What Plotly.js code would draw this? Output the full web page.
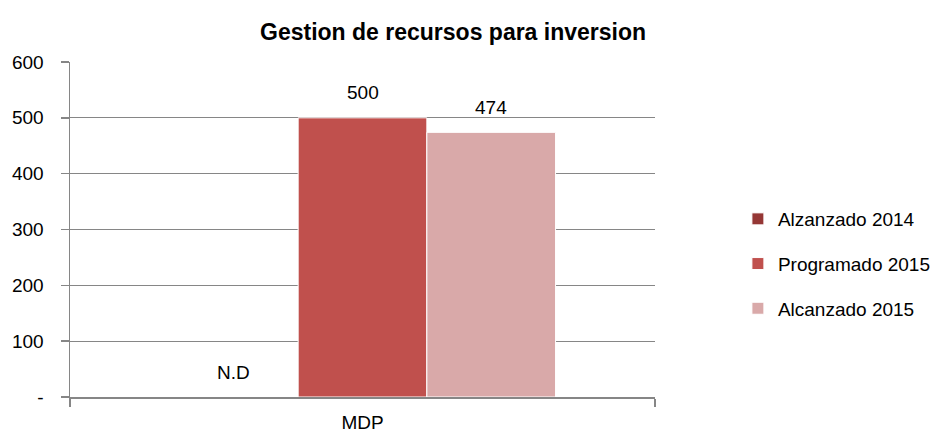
<!DOCTYPE html>
<html>
<head>
<meta charset="utf-8">
<script src="https://cdn.plot.ly/plotly-3.0.1.min.js"></script>
<style>html,body{margin:0;padding:0;background:#fff;}#chart{width:938px;height:432px;}</style>
</head>
<body>
<div id="chart"></div>
<script>
const categories = ["MDP"];
const seriesNames = ["Alzanzado 2014", "Programado 2015", "Alcanzado 2015"];
const alzanzado2014 = [0];
const programado2015 = [500];
const alcanzado2015 = [474];
const labels2014 = ["N.D"];
const labelsProg = ["500"];
const labelsAlc = ["474"];
const yTickVals = [0, 100, 200, 300, 400, 500, 600];
const yTickText = ["-", "100", "200", "300", "400", "500", "600"];
const colors = ["#953735", "#C0504D", "#D9A9A9"];

const FAM = "Liberation Sans, Arial, sans-serif";
const font = {family: FAM, size: 19, color: "#000"};
const values = [alzanzado2014, programado2015, alcanzado2015];
const texts = [labels2014, labelsProg, labelsAlc];
const bargap = 0.34;
const nSeries = values.length;
const barW = (1 - bargap) / nSeries;

const traces = values.map((v, i) => ({
  type: "bar",
  name: seriesNames[i],
  x: categories,
  y: v,
  marker: {color: colors[i], line: {color: "#ffffff", width: 1}},
  legendgroup: "g" + i
}));

// data labels placed above each bar
const annotations = [];
values.forEach((v, i) => {
  v.forEach((val, j) => {
    annotations.push({
      xref: "x", yref: "y",
      x: j + (i - (nSeries - 1) / 2) * barW,
      y: val,
      text: texts[i][j],
      showarrow: false,
      yanchor: "middle", xanchor: "center",
      yshift: 25,
      font: font
    });
  });
});

const layout = {
  width: 938, height: 432,
  margin: {l: 70, r: 283, t: 62, b: 35, autoexpand: false},
  paper_bgcolor: "#fff", plot_bgcolor: "#fff",
  font: font,
  title: {text: "<b>Gestion de recursos para inversion</b>", font: {family: FAM, size: 23, color: "#000"}, x: 0.483, xanchor: "center", y: 0.925, yanchor: "middle", automargin: false},
  barmode: "group",
  bargap: bargap,
  bargroupgap: 0,
  showlegend: true,
  legend: {x: 1.1417, xanchor: "left", y: 0.397, yanchor: "middle", font: font, tracegroupgap: 17, bgcolor: "rgba(0,0,0,0)"},
  annotations: annotations,
  xaxis: {
    type: "category",
    automargin: false,
    showline: true, linecolor: "#868686", linewidth: 1.5,
    ticks: "outside", ticklen: 8, tickcolor: "#868686", tickwidth: 1.5,
    tickson: "boundaries",
    showgrid: false, zeroline: false,
    tickfont: font,
    ticklabelstandoff: 8
  },
  yaxis: {
    range: [0, 600],
    automargin: false,
    tickvals: yTickVals, ticktext: yTickText,
    showline: true, linecolor: "#868686", linewidth: 1.5,
    ticks: "outside", ticklen: 8, tickcolor: "#868686", tickwidth: 1.5,
    showgrid: true, gridcolor: "#868686", gridwidth: 1,
    zeroline: false,
    tickfont: font,
    ticklabelstandoff: 13
  }
};

Plotly.newPlot("chart", traces, layout, {displayModeBar: false, staticPlot: true});
</script>
</body>
</html>
